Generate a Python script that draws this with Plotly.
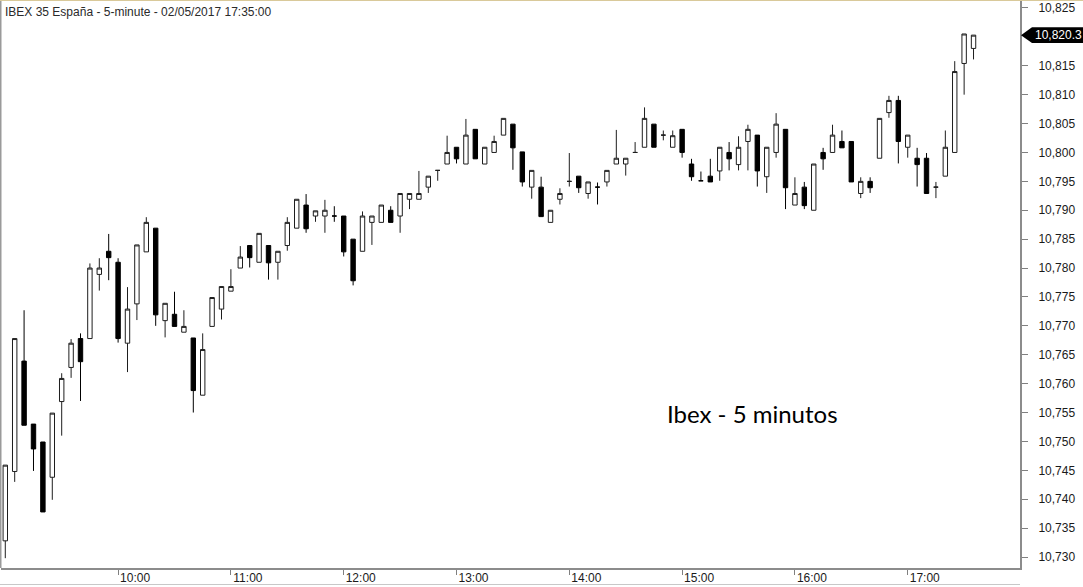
import pandas as pd
import plotly.graph_objects as go

# ---- data (IBEX 35, 5-minute candles, 02/05/2017 09:00 - 17:35) ----
opens = [10732.8, 10744.8, 10763.9, 10753.0, 10749.9, 10743.8, 10756.9, 10762.8, 10767.8, 10767.8,
         10778.9, 10782.9, 10781.0, 10767.0, 10773.8, 10782.8, 10786.9, 10770.9, 10772.0, 10768.9,
         10767.9, 10758.0, 10769.9, 10772.9, 10776.0, 10780.0, 10783.9, 10781.0, 10783.9, 10781.0,
         10783.9, 10786.9, 10790.9, 10789.0, 10789.0, 10789.0, 10789.0, 10785.0, 10782.9, 10787.9,
         10787.9, 10790.0, 10789.0, 10791.9, 10791.9, 10794.0, 10796.9, 10798.0, 10800.9, 10798.0,
         10804.0, 10798.0, 10800.0, 10803.0, 10804.9, 10800.1, 10794.0, 10794.0, 10787.9, 10791.9,
         10795.0, 10795.9, 10792.9, 10794.0, 10794.9, 10798.0, 10798.0, 10800.0, 10800.9, 10804.9,
         10803.0, 10800.9, 10804.0, 10798.0, 10795.1, 10795.9, 10796.8, 10800.0, 10797.9, 10801.9,
         10803.0, 10795.8, 10800.0, 10804.0, 10790.9, 10794.0, 10790.0, 10800.0, 10800.0, 10801.9,
         10801.9, 10792.9, 10795.0, 10799.0, 10806.9, 10809.0, 10800.9, 10799.0, 10799.0, 10794.0,
         10795.9, 10800.0, 10815.4, 10818.0]
highs = [10745.9, 10767.8, 10772.7, 10753.0, 10749.9, 10754.9, 10761.8, 10767.7, 10768.7, 10780.8,
         10781.7, 10785.9, 10781.7, 10776.7, 10784.0, 10788.8, 10786.9, 10773.9, 10775.9, 10772.7,
         10767.9, 10768.7, 10774.9, 10776.8, 10779.8, 10783.8, 10783.9, 10786.0, 10783.9, 10782.9,
         10788.8, 10791.9, 10792.8, 10789.9, 10791.8, 10790.7, 10789.0, 10785.0, 10789.8, 10789.0,
         10790.9, 10790.7, 10792.9, 10792.9, 10796.8, 10795.9, 10796.9, 10802.9, 10800.9, 10805.8,
         10804.0, 10800.9, 10802.9, 10805.9, 10804.9, 10800.1, 10796.9, 10795.8, 10790.0, 10793.8,
         10799.9, 10795.9, 10794.9, 10794.8, 10796.9, 10803.9, 10799.0, 10801.8, 10807.8, 10804.9,
         10803.8, 10803.8, 10804.0, 10798.9, 10796.7, 10798.9, 10800.9, 10801.8, 10802.8, 10804.8,
         10803.0, 10800.9, 10806.8, 10804.0, 10795.7, 10794.9, 10798.0, 10800.8, 10804.8, 10803.8,
         10801.9, 10795.7, 10795.7, 10805.9, 10809.8, 10809.8, 10803.0, 10800.8, 10799.9, 10794.9,
         10803.8, 10815.8, 10820.5, 10820.3]
lows = [10729.8, 10743.0, 10752.8, 10744.9, 10737.8, 10739.9, 10751.0, 10761.0, 10757.0, 10767.8,
        10776.1, 10777.9, 10767.1, 10762.0, 10771.0, 10782.8, 10770.0, 10768.0, 10769.9, 10768.9,
        10755.0, 10758.0, 10769.9, 10771.1, 10776.0, 10780.0, 10780.1, 10781.0, 10778.0, 10778.0,
        10783.0, 10786.9, 10786.1, 10788.0, 10786.1, 10788.0, 10782.0, 10777.0, 10782.9, 10784.0,
        10787.9, 10787.9, 10786.1, 10790.2, 10791.9, 10793.0, 10795.1, 10798.0, 10798.1, 10798.0,
        10798.9, 10798.0, 10800.0, 10803.0, 10797.0, 10794.1, 10792.0, 10788.9, 10787.9, 10791.0,
        10794.1, 10793.0, 10792.0, 10791.0, 10794.1, 10798.0, 10796.0, 10800.0, 10800.9, 10800.9,
        10802.1, 10800.9, 10799.1, 10795.1, 10795.1, 10794.9, 10795.1, 10796.9, 10796.9, 10796.9,
        10794.1, 10793.0, 10799.1, 10790.2, 10790.9, 10790.2, 10790.0, 10797.0, 10800.0, 10800.8,
        10794.9, 10792.1, 10793.0, 10799.0, 10806.0, 10798.1, 10799.1, 10794.1, 10792.9, 10792.1,
        10795.9, 10800.0, 10810.0, 10816.1]
closes = [10745.9, 10767.8, 10752.8, 10748.7, 10737.8, 10754.9, 10760.9, 10767.0, 10763.8, 10780.0,
          10780.0, 10781.8, 10767.8, 10772.9, 10784.0, 10787.9, 10771.9, 10773.9, 10769.9, 10769.9,
          10758.8, 10765.9, 10774.9, 10776.8, 10776.8, 10781.9, 10781.8, 10786.0, 10780.9, 10782.9,
          10787.9, 10791.9, 10786.8, 10789.9, 10790.0, 10789.0, 10782.8, 10777.8, 10789.0, 10789.0,
          10790.9, 10787.9, 10792.9, 10792.9, 10792.9, 10795.9, 10796.9, 10800.0, 10798.9, 10803.0,
          10798.9, 10800.9, 10801.9, 10805.9, 10800.8, 10794.9, 10796.9, 10788.9, 10790.0, 10792.9,
          10795.0, 10793.9, 10794.9, 10794.0, 10796.9, 10799.0, 10799.0, 10800.0, 10805.9, 10800.9,
          10803.0, 10802.9, 10800.0, 10795.8, 10795.1, 10794.9, 10800.9, 10798.9, 10800.9, 10804.0,
          10796.8, 10800.9, 10804.9, 10793.9, 10792.9, 10790.8, 10798.0, 10798.9, 10803.0, 10800.8,
          10794.9, 10795.0, 10793.9, 10805.9, 10809.0, 10801.9, 10803.0, 10797.9, 10792.9, 10794.0,
          10800.9, 10814.0, 10820.5, 10820.3]

times = pd.date_range("2017-05-02 09:00", periods=len(opens), freq="5min")
hour_ticks = ["2017-05-02 %02d:00" % h for h in range(10, 18)]
hour_labels = ["%02d:00" % h for h in range(10, 18)]
price_ticks = [v for v in range(10730, 10830, 5) if v != 10820]
title_text = "IBEX 35 España - 5-minute - 02/05/2017 17:35:00"
note_text = "Ibex - 5 minutos"

# ---- figure geometry (pixels) ----
W, H = 1083, 587
ML, MR, MT, MB = 1, 63, 0, 19
PW, PH = W - ML - MR, H - MT - MB

def pxx(x):
    return (x - ML) / PW

def pxy(y):
    return 1 - (y - MT) / PH

FONT = "Liberation Sans, Arial, sans-serif"

fig = go.Figure(go.Candlestick(
    x=times, open=opens, high=highs, low=lows, close=closes,
    increasing=dict(line=dict(color="#1e1e1e", width=1), fillcolor="white"),
    decreasing=dict(line=dict(color="black", width=1), fillcolor="black"),
    whiskerwidth=0, hoverinfo="skip",
))

last = closes[-1]
half = 1.35  # half-height of the last-price tag in price units

shapes = [
    dict(type="path", xref="paper", yref="y",
         path="M %f,%f L %f,%f L %f,%f L %f,%f L %f,%f Z" % (
             pxx(1021), last, pxx(1032), last + half, pxx(1083), last + half,
             pxx(1083), last - half, pxx(1032), last - half),
         fillcolor="black", line=dict(width=0), layer="above"),
    dict(type="line", xref="paper", yref="paper", x0=pxx(0.5), x1=pxx(0.5), y0=0, y1=1,
         line=dict(color="#9a9a9a", width=2)),
    dict(type="line", xref="paper", yref="paper", x0=pxx(0), x1=pxx(1083), y0=pxy(0.5), y1=pxy(0.5),
         line=dict(color="#d9c99a", width=1)),
    dict(type="line", xref="paper", yref="paper", x0=pxx(0), x1=pxx(1020), y0=pxy(584.5), y1=pxy(584.5),
         line=dict(color="#c8c8c8", width=1)),
]

annotations = [
    dict(text=title_text, xref="paper", yref="paper", x=pxx(3), y=pxy(3), xanchor="left", yanchor="top",
         showarrow=False, font=dict(family=FONT, size=12, color="#2a2a2a")),
    dict(text=note_text, xref="paper", yref="paper", x=pxx(752), y=pxy(413), xanchor="center",
         yanchor="middle", showarrow=False, font=dict(family="Lato, Open Sans, sans-serif", size=24, color="black")),
    dict(text=f"{last:,.1f}", xref="paper", yref="y", x=pxx(1033), y=last, xanchor="left", yanchor="middle",
         showarrow=False, font=dict(family=FONT, size=12, color="white")),
]

fig.update_layout(
    width=W, height=H,
    margin=dict(l=ML, r=MR, t=MT, b=MB, pad=0),
    paper_bgcolor="white", plot_bgcolor="white",
    showlegend=False,
    shapes=shapes, annotations=annotations,
    boxgap=0.33,
    xaxis=dict(
        type="date", range=["2017-05-02 08:57:43", "2017-05-02 17:59:43"],
        rangeslider=dict(visible=False),
        tickvals=hour_ticks, ticktext=hour_labels,
        ticks="outside", ticklen=5, tickcolor="#808080", tickwidth=1,
        ticklabelshift=17, ticklabelstandoff=-7,
        showgrid=False, zeroline=False,
        showline=True, linecolor="#8c8c8c", linewidth=2,
        tickfont=dict(family=FONT, size=12, color="#1a1a1a"),
        fixedrange=True,
    ),
    yaxis=dict(
        side="right", range=[10728.1, 10826.38],
        tickvals=price_ticks, tickformat=",d",
        ticks="outside", ticklen=6, tickcolor="#808080", tickwidth=1,
        ticklabelstandoff=8,
        showgrid=False, zeroline=False,
        showline=True, linecolor="#8c8c8c", linewidth=2,
        tickfont=dict(family=FONT, size=12, color="#1a1a1a"),
        fixedrange=True,
    ),
)

fig.write_html("out.html", config={"displayModeBar": False},
               post_script="document.body.style.margin='0';document.body.style.padding='0';")
